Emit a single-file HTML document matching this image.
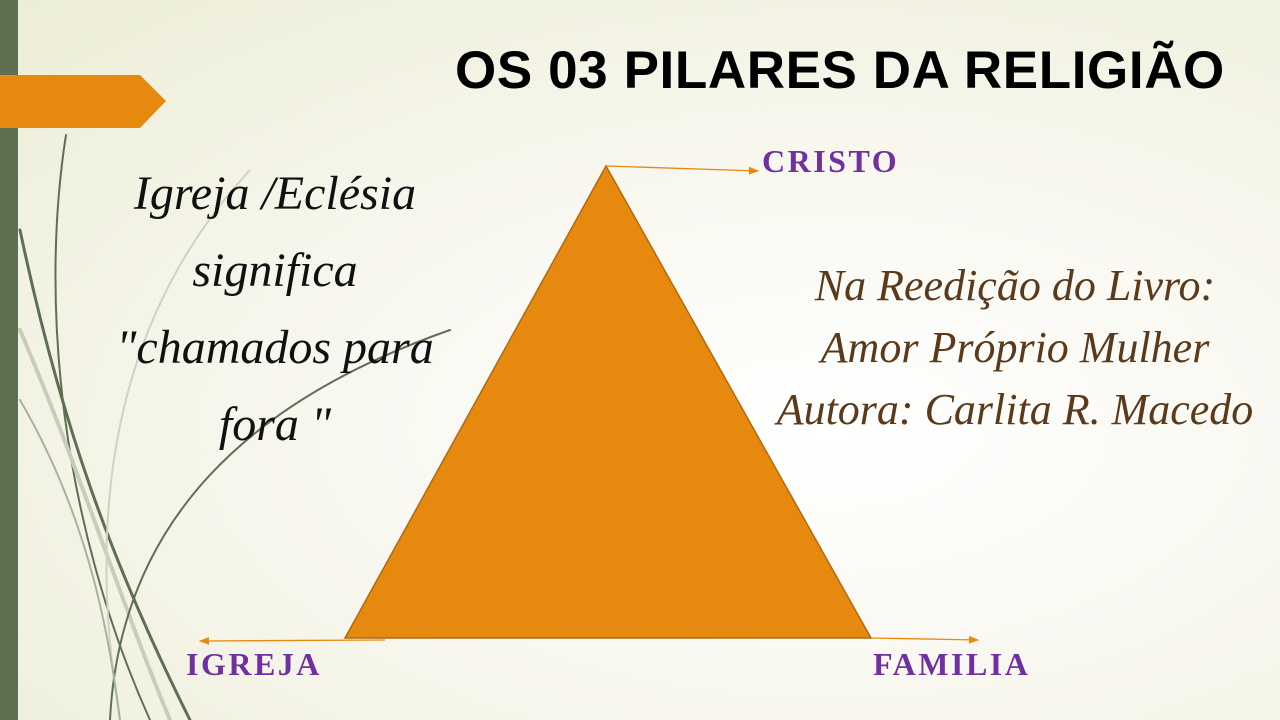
<!DOCTYPE html>
<html><head><meta charset="utf-8"><style>
body{margin:0;width:1280px;height:720px;overflow:hidden;position:relative;background:radial-gradient(ellipse at 65% 60%,#ffffff 0%,#f8f7ef 45%,#ecedd6 100%);font-family:"Liberation Sans",sans-serif}
.t{position:absolute;white-space:nowrap}
</style></head><body>
<svg width="1280" height="720" style="position:absolute;left:0;top:0">
<defs><marker id="a" markerWidth="8" markerHeight="8" refX="7" refY="4" orient="auto"><path d="M0,1 L8,4 L0,7z" fill="#E8890F"/></marker></defs>
<rect x="0" y="0" width="18" height="720" fill="#5f7052"/>
<path d="M0,75 L140,75 L166,101 L140,128 L0,128z" fill="#E8890F"/>
<g fill="none" stroke-linecap="round">
<path d="M66,135 C40,300 60,520 150,720" stroke="#5f7052" stroke-width="2"/>
<path d="M20,230 C60,420 110,560 190,720" stroke="#5f7052" stroke-width="3"/>
<path d="M20,330 C80,470 120,600 170,720" stroke="#c8cdb8" stroke-width="4"/>
<path d="M250,170 C130,300 80,480 120,720" stroke="#d0d3c4" stroke-width="2"/>
<path d="M450,330 C250,400 120,520 110,720" stroke="#5f7052" stroke-width="2"/>
<path d="M20,400 C90,520 110,640 120,720" stroke="#a9b29a" stroke-width="2"/>
</g>
<polygon points="606,166 345,638 871,638" fill="#E8890F" stroke="#B06A10" stroke-width="1.5"/>
<line x1="606" y1="166" x2="758" y2="171" stroke="#E8890F" stroke-width="1.3" marker-end="url(#a)"/>
<line x1="385" y1="640" x2="200" y2="641" stroke="#E8890F" stroke-width="1.3" marker-end="url(#a)"/>
<line x1="871" y1="638" x2="978" y2="640" stroke="#E8890F" stroke-width="1.3" marker-end="url(#a)"/>
</svg>
<div class="t" style="left:455px;top:40px;font-size:53px;font-weight:bold;color:#000;letter-spacing:0.6px">OS 03 PILARES DA RELIGIÃO</div>
<div class="t" style="left:762px;top:143px;font:bold 32px 'Liberation Serif',serif;color:#7030a0;letter-spacing:2.5px">CRISTO</div>
<div class="t" style="left:186px;top:646px;font:bold 32px 'Liberation Serif',serif;color:#7030a0;letter-spacing:2.5px">IGREJA</div>
<div class="t" style="left:873px;top:646px;font:bold 32px 'Liberation Serif',serif;color:#7030a0;letter-spacing:2.5px">FAMILIA</div>
<div class="t" style="left:100px;top:155px;width:350px;text-align:center;font:italic 48px/77px 'Liberation Serif',serif;color:#111">Igreja /Eclésia<br>significa<br>"chamados para<br>fora "</div>
<div class="t" style="left:765px;top:255px;width:500px;text-align:center;font:italic 44px/62px 'Liberation Serif',serif;color:#5a3a1a">Na Reedição do Livro:<br>Amor Próprio Mulher<br>Autora: Carlita R. Macedo</div>
</body></html>
